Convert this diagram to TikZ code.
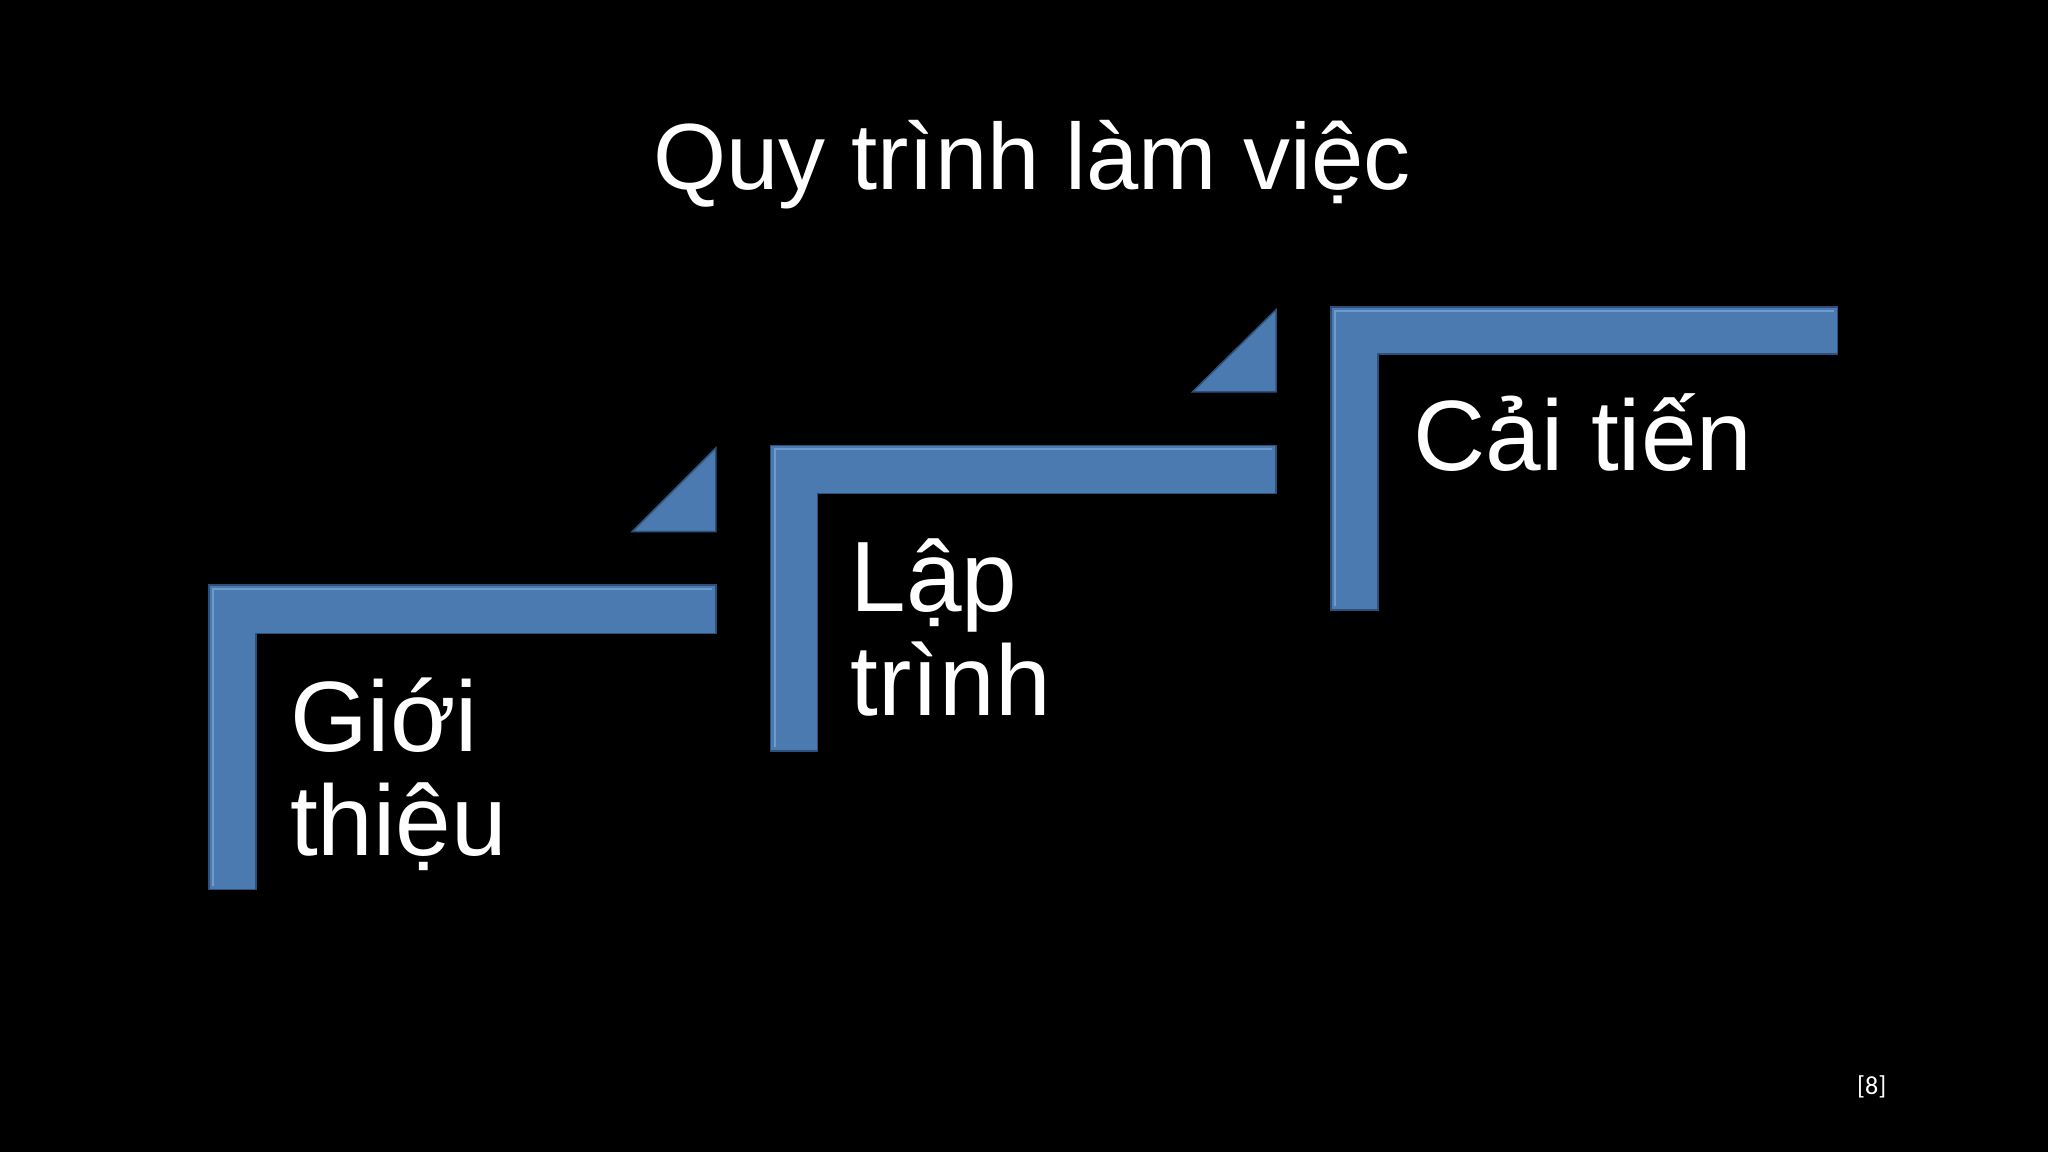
\documentclass[tikz,border=0pt]{standalone}
\usepackage{fontspec}
\setmainfont{Liberation Sans}
\newfontfamily\smallfont{Carlito}
\definecolor{stepfill}{RGB}{74,122,176}
\definecolor{steplight}{RGB}{110,155,205}
\definecolor{stepdark}{RGB}{45,80,122}
\tikzset{
  stepshape/.style={fill=stepfill, draw=stepdark, line width=1.5pt},
  bevel/.style={draw=steplight, line width=2pt},
  lbl/.style={text=white, anchor=base west, inner sep=0pt, font=\fontsize{100}{110}\selectfont},
}
\begin{document}
\begin{tikzpicture}[x=1.306pt,y=-1.306pt]
\fill[black] (0,0) rectangle (1568,882);
\useasboundingbox (0,0) rectangle (1568,882);
\node[text=white, font=\fontsize{94}{100}\selectfont, anchor=base] (title) at (790,145) {Quy trình làm việc};
% step 1
\draw[stepshape] (160,448) -- (548,448) -- (548,485) -- (196,485) -- (196,681) -- (160,681) -- cycle;
\draw[bevel] (163,678) -- (163,451) -- (545,451);
\draw[stepshape] (484,407) -- (548,343) -- (548,407) -- cycle;
% step 2
\draw[stepshape] (590,341) -- (977,341) -- (977,378) -- (626,378) -- (626,575) -- (590,575) -- cycle;
\draw[bevel] (593,572) -- (593,344) -- (974,344);
\draw[stepshape] (913,300) -- (977,237) -- (977,300) -- cycle;
% step 3
\draw[stepshape] (1019,235) -- (1407,235) -- (1407,271) -- (1055,271) -- (1055,467) -- (1019,467) -- cycle;
\draw[bevel] (1022,464) -- (1022,238) -- (1404,238);
% labels
\node[lbl] (g1) at (222,575) {Giới};
\node[lbl] (g2) at (222,655) {thiệu};
\node[lbl] (l1) at (651,468) {Lập};
\node[lbl] (l2) at (651,548) {trình};
\node[lbl] (c1) at (1082,360) {Cải tiến};
\node[text=white, font=\smallfont\fontsize{26}{30}\selectfont, anchor=base] (ref) at (1433,838) {[8]};
\end{tikzpicture}
\end{document}
